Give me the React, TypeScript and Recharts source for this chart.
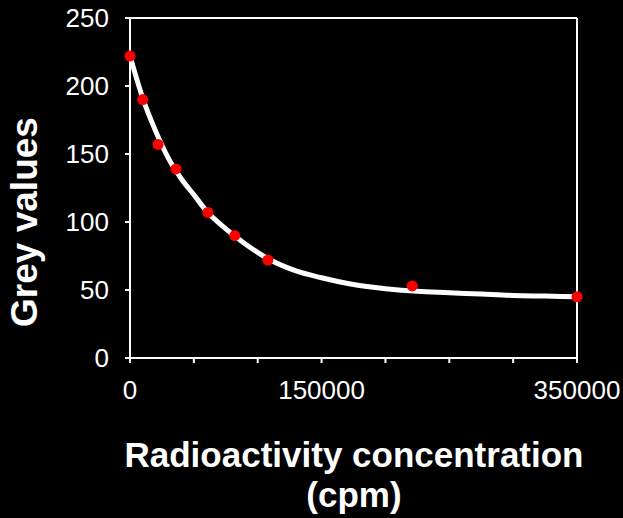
import React from 'react';
import { ComposedChart, Line, Scatter, XAxis, YAxis, ReferenceLine, Label } from 'recharts';

// Fitted curve
const curveX = [0, 5000, 10000, 20000, 30000, 40000, 50000, 60000, 75000, 90000, 110000, 130000, 150000, 175000, 200000, 225000, 250000, 275000, 300000, 325000, 350000];
const curveY = [222, 206, 191, 167, 147, 132, 120, 108, 95, 84, 72, 64, 59, 54, 51, 49, 48, 47, 46, 45.5, 45];

// Measured points
const pointX = [0, 10000, 22000, 36000, 61000, 82000, 108000, 221000, 350000];
const pointY = [222, 190, 157, 139, 107, 90, 72, 53, 45];

const xTicks = [0, 50000, 100000, 150000, 200000, 250000, 300000, 350000];
const xTickLabels = [0, 150000, 350000];
const yTicks = [0, 50, 100, 150, 200, 250];

const curveData = curveX.map((x, i) => ({ x, y: curveY[i] }));
const pointData = pointX.map((x, i) => ({ x, y: pointY[i] }));

const FONT = '"Liberation Sans", Arial, sans-serif';

export default function App() {
  return (
    <div style={{ position: 'absolute', left: 0, top: 0, width: 623, height: 518, background: '#000' }}>
      <ComposedChart width={623} height={518} margin={{ top: 18, right: 46, bottom: 130, left: 0 }}>
        <XAxis
          type="number"
          dataKey="x"
          domain={[0, 350000]}
          ticks={xTicks}
          interval={0}
          tickFormatter={(v: number) => (xTickLabels.includes(v) ? String(v) : '')}
          tick={{ fill: '#fff', fontSize: 26, fontFamily: FONT }}
          tickSize={5}
          tickMargin={18}
          stroke="#fff"
          strokeWidth={2}
          height={30}
        >
          <Label
            content={() => (
              <g>
                <text x={354} y={467} textAnchor="middle" fill="#fff" fontFamily={FONT} fontWeight="bold" fontSize={35}>
                  Radioactivity concentration
                </text>
                <text x={354} y={507} textAnchor="middle" fill="#fff" fontFamily={FONT} fontWeight="bold" fontSize={35}>
                  (cpm)
                </text>
              </g>
            )}
          />
        </XAxis>
        <YAxis
          type="number"
          dataKey="y"
          domain={[0, 250]}
          ticks={yTicks}
          interval={0}
          tick={{ fill: '#fff', fontSize: 26, fontFamily: FONT }}
          tickSize={5}
          tickMargin={16}
          stroke="#fff"
          strokeWidth={2}
          width={130}
        >
          <Label
            content={() => (
              <text
                x={37}
                y={222}
                transform="rotate(-90, 37, 222)"
                textAnchor="middle"
                fill="#fff"
                fontFamily={FONT}
                fontWeight="bold"
                fontSize={37}
              >
                Grey values
              </text>
            )}
          />
        </YAxis>
        <ReferenceLine y={250} stroke="#fff" strokeWidth={2} />
        <ReferenceLine x={350000} stroke="#fff" strokeWidth={2} />
        <Line
          data={curveData}
          dataKey="y"
          type="monotone"
          stroke="#fff"
          strokeWidth={5}
          dot={false}
          activeDot={false}
          isAnimationActive={false}
        />
        <Scatter
          data={pointData}
          dataKey="y"
          fill="#ff0000"
          isAnimationActive={false}
          shape={(p: any) => <circle cx={p.cx} cy={p.cy} r={5.5} fill="#ff0000" />}
        />
      </ComposedChart>
    </div>
  );
}
